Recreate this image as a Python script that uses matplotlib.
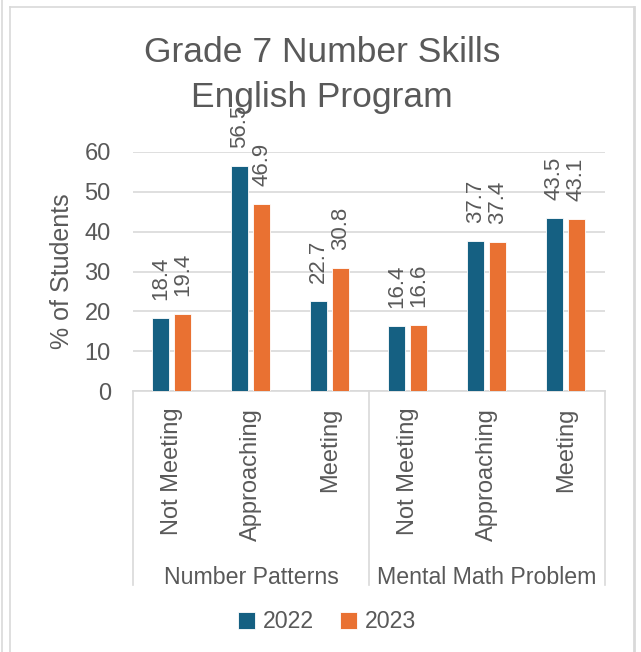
import matplotlib
matplotlib.use('Agg')
from matplotlib import pyplot as plt
from matplotlib.lines import Line2D
import numpy as np

# chart data
groups = ['Number Patterns', 'Mental Math Problem']
levels = ['Not Meeting', 'Approaching', 'Meeting']
years = ['2022', '2023']
vals_2022 = [18.4, 56.5, 22.7, 16.4, 37.7, 43.5]
vals_2023 = [19.4, 46.9, 30.8, 16.6, 37.4, 43.1]

blue = '#156082'
orange = '#E97132'
grey_txt = '#595959'
grid_c = '#D9D9D9'

plt.rcParams['font.family'] = ['Liberation Sans', 'DejaVu Sans']

W, H = 641, 652
fig = plt.figure(figsize=(W / 100, H / 100), dpi=100)

# plot area in pixels: x 133..605, y 152 (60) .. 391 (0)
x0, x1, ytop, ybot = 133, 605, 152, 391
ax = fig.add_axes([x0 / W, 1 - ybot / H, (x1 - x0) / W, (ybot - ytop) / H])

cats = levels * len(groups)
x = np.arange(len(cats))
bw = 0.215
b1 = ax.bar(x - 0.145, vals_2022, bw, color=blue, edgecolor='white', linewidth=0.6, label=years[0], zorder=3)
b2 = ax.bar(x + 0.135, vals_2023, bw, color=orange, edgecolor='white', linewidth=0.6, label=years[1], zorder=3)

for bars in (b1, b2):
    for r in bars:
        ax.annotate(f'{r.get_height():.1f}', (r.get_x() + r.get_width() / 2, r.get_height()),
                    xytext=(0, 13), textcoords='offset points', rotation=90,
                    ha='center', va='bottom', fontsize=16, color=grey_txt,
                    annotation_clip=False)

ax.set_xlim(-0.5, len(cats) - 0.5)
ax.set_ylim(0, 60)
ax.set_yticks(range(0, 61, 10))
ax.yaxis.grid(True, color=grid_c, linewidth=1.2, zorder=0)
ax.set_axisbelow(True)
for s in ['top', 'right', 'left']:
    ax.spines[s].set_visible(False)
ax.spines['bottom'].set_color(grid_c)
ax.spines['bottom'].set_linewidth(1.2)

ax.set_xticks(x)
ax.set_xticklabels(cats, rotation=90, va='top', ha='center', fontsize=17, color=grey_txt)
ax.tick_params(axis='x', length=0, pad=12)
ax.tick_params(axis='y', length=0, pad=16, labelsize=17, labelcolor=grey_txt)

ax.set_ylabel('% of Students', fontsize=18, color=grey_txt, va='center')
ax.yaxis.set_label_coords((62 - x0) / (x1 - x0), 0.5)

# group separators and group labels below the category labels
tr = ax.get_xaxis_transform()
ybox = -(585 - ybot) / (ybot - ytop)
for xs in [-0.5, 2.5, 5.5]:
    ax.plot([xs, xs], [0, ybox], transform=tr, color=grid_c, linewidth=1.2, clip_on=False)
ylab = -(577 - ybot) / (ybot - ytop)
for i, g in enumerate(groups):
    ax.text(i * 3 + 1, ylab, g, transform=tr, ha='center', va='center', fontsize=16.7, color=grey_txt)

# title
fig.text(322 / W, 1 - 53 / H, 'Grade 7 Number Skills', ha='center', va='center', fontsize=25.5, color=grey_txt)
fig.text(322 / W, 1 - 98 / H, 'English Program', ha='center', va='center', fontsize=25.5, color=grey_txt)

# legend
fig.legend(handles=[b1, b2], labels=years, loc='center', bbox_to_anchor=(327 / W, 1 - 622 / H),
           ncol=2, frameon=False, fontsize=16.7, handlelength=0.75, handleheight=0.75,
           handletextpad=0.35, columnspacing=1.1, labelcolor=grey_txt)

# chart border / sheet lines
def fline(xs, ys, lw=1.2):
    fig.add_artist(Line2D([v / W for v in xs], [1 - v / H for v in ys], color='#D9D9D9', linewidth=lw))

fline([2, 2], [0, H])
fline([10, 10], [7, H])
fline([10, 634], [7, 7])
fline([634, 634], [7, H], lw=2)

fig.savefig('out.png', dpi=100)
